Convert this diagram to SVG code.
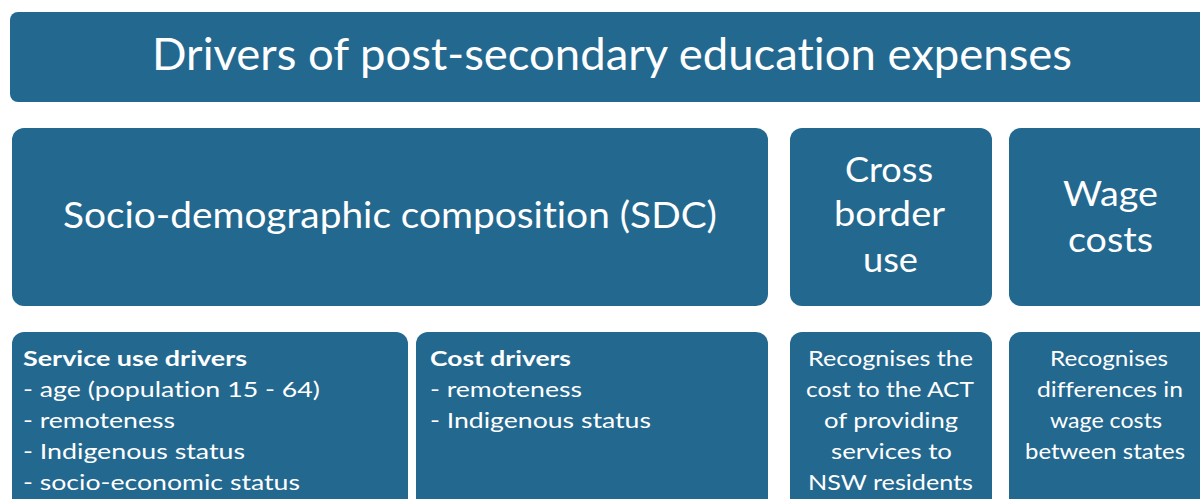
<svg xmlns="http://www.w3.org/2000/svg" width="1200" height="499" viewBox="0 0 1200 499">
<style>
.box{fill:#23688f;}
.t{fill:#ffffff;font-family:Lato,"Open Sans","Liberation Sans",sans-serif;font-variant-ligatures:none;font-feature-settings:"liga" 0;}
.b{font-weight:bold;}
.title{font-size:45px;}
.big{font-size:37.5px;}
.mid{font-size:35px;}
.sm{font-size:21.5px;}
</style>
<rect x="0" y="0" width="1200" height="499" fill="#ffffff"/>
<g id="title">
<rect class="box" x="10" y="12" width="1200" height="90" rx="8"/>
<text class="t title" x="152" y="70" textLength="920" lengthAdjust="spacingAndGlyphs">Drivers of post-secondary education expenses</text>
</g>
<g id="sdc">
<rect class="box" x="12" y="128" width="756" height="178" rx="12"/>
<text class="t big" x="63" y="228" textLength="654" lengthAdjust="spacingAndGlyphs">Socio-demographic composition (SDC)</text>
</g>
<g id="cross-border">
<rect class="box" x="790" y="128" width="202" height="178" rx="12"/>
<text class="t mid" x="845" y="182" textLength="88" lengthAdjust="spacingAndGlyphs">Cross</text>
<text class="t mid" x="834" y="226" textLength="111" lengthAdjust="spacingAndGlyphs">border</text>
<text class="t mid" x="863" y="272" textLength="55" lengthAdjust="spacingAndGlyphs">use</text>
</g>
<g id="wage-costs">
<rect class="box" x="1009" y="128" width="220" height="178" rx="12"/>
<text class="t mid" x="1063" y="206" textLength="95" lengthAdjust="spacingAndGlyphs">Wage</text>
<text class="t mid" x="1068" y="252" textLength="85" lengthAdjust="spacingAndGlyphs">costs</text>
</g>
<g id="service-use">
<rect class="box" x="12" y="332" width="396" height="200" rx="12"/>
<text class="t sm b" x="23" y="366" textLength="224" lengthAdjust="spacingAndGlyphs">Service use drivers</text>
<text class="t sm" x="23" y="397" textLength="297" lengthAdjust="spacingAndGlyphs">- age (population 15 - 64)</text>
<text class="t sm" x="23" y="428" textLength="152" lengthAdjust="spacingAndGlyphs">- remoteness</text>
<text class="t sm" x="23" y="459" textLength="222" lengthAdjust="spacingAndGlyphs">- Indigenous status</text>
<text class="t sm" x="23" y="490" textLength="277" lengthAdjust="spacingAndGlyphs">- socio-economic status</text>
</g>
<g id="cost-drivers">
<rect class="box" x="416" y="332" width="352" height="200" rx="12"/>
<text class="t sm b" x="430" y="366" textLength="141" lengthAdjust="spacingAndGlyphs">Cost drivers</text>
<text class="t sm" x="430" y="397" textLength="152" lengthAdjust="spacingAndGlyphs">- remoteness</text>
<text class="t sm" x="430" y="428" textLength="221" lengthAdjust="spacingAndGlyphs">- Indigenous status</text>
</g>
<g id="cross-border-desc">
<rect class="box" x="790" y="332" width="202" height="200" rx="12"/>
<text class="t sm" x="808" y="366" textLength="165" lengthAdjust="spacingAndGlyphs">Recognises the</text>
<text class="t sm" x="806" y="397" textLength="168" lengthAdjust="spacingAndGlyphs">cost to the ACT</text>
<text class="t sm" x="824" y="428" textLength="134" lengthAdjust="spacingAndGlyphs">of providing</text>
<text class="t sm" x="831" y="459" textLength="121" lengthAdjust="spacingAndGlyphs">services to</text>
<text class="t sm" x="808" y="490" textLength="165" lengthAdjust="spacingAndGlyphs">NSW residents</text>
</g>
<g id="wage-costs-desc">
<rect class="box" x="1009" y="332" width="220" height="200" rx="12"/>
<text class="t sm" x="1050" y="366" textLength="118" lengthAdjust="spacingAndGlyphs">Recognises</text>
<text class="t sm" x="1037" y="397" textLength="146" lengthAdjust="spacingAndGlyphs">differences in</text>
<text class="t sm" x="1050" y="428" textLength="112" lengthAdjust="spacingAndGlyphs">wage costs</text>
<text class="t sm" x="1025" y="459" textLength="160" lengthAdjust="spacingAndGlyphs">between states</text>
</g>
<g id="connectors"></g>
</svg>
